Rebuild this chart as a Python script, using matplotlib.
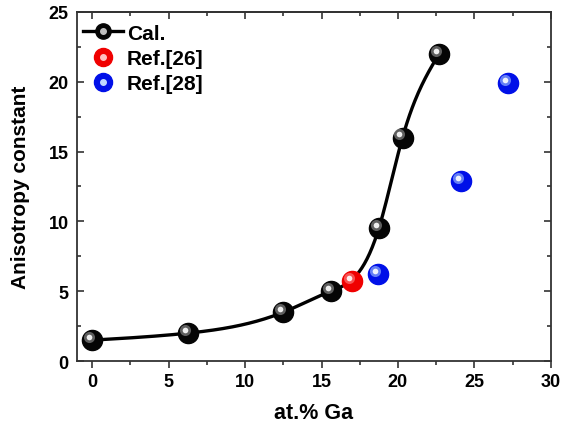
import numpy as np
import matplotlib
matplotlib.use('Agg')
import matplotlib.pyplot as plt
import matplotlib.transforms as mtransforms
from matplotlib.lines import Line2D

# data
cal_x = [0, 6.25, 12.5, 15.6, 18.75, 20.3, 22.7]
cal_y = [1.5, 2.0, 3.5, 5.0, 9.5, 16.0, 22.0]
ref26_x = [17.0]
ref26_y = [5.7]
ref28_x = [18.7, 24.1, 27.2]
ref28_y = [6.2, 12.9, 19.9]

plt.rcParams['font.family'] = ['Liberation Sans', 'DejaVu Sans']
plt.rcParams['font.weight'] = 'bold'


def natural_spline(x, y, n=400):
    # natural cubic spline through the points, drawn as y(x)
    x = np.asarray(x, float)
    y = np.asarray(y, float)
    k = len(x)
    h = np.diff(x)
    A = np.zeros((k, k))
    b = np.zeros(k)
    A[0, 0] = A[-1, -1] = 1
    for i in range(1, k - 1):
        A[i, i - 1] = h[i - 1]
        A[i, i] = 2 * (h[i - 1] + h[i])
        A[i, i + 1] = h[i]
        b[i] = 3 * ((y[i + 1] - y[i]) / h[i] - (y[i] - y[i - 1]) / h[i - 1])
    c = np.linalg.solve(A, b)
    xs = np.linspace(x[0], x[-1], n)
    idx = np.clip(np.searchsorted(x, xs) - 1, 0, k - 2)
    d = xs - x[idx]
    bb = (y[idx + 1] - y[idx]) / h[idx] - h[idx] * (c[idx + 1] + 2 * c[idx]) / 3
    dd = (c[idx + 1] - c[idx]) / (3 * h[idx])
    ys = y[idx] + bb * d + c[idx] * d ** 2 + dd * d ** 3
    return xs, ys


def sphere(ax, x, y, base, light, size=14.5, z=5):
    # fake a shaded ball: dark body plus an offset highlight
    ax.plot(x, y, 'o', ms=size, color=base, mec=base, zorder=z, clip_on=False)
    off = mtransforms.ScaledTranslation(-2.2 / 72, 2.2 / 72, ax.figure.dpi_scale_trans)
    ax.plot(x, y, 'o', ms=size * 0.55, color=light, mec='none', alpha=0.6,
            transform=ax.transData + off, zorder=z + 1, clip_on=False)
    ax.plot(x, y, 'o', ms=size * 0.28, color='white', mec='none', alpha=0.9,
            transform=ax.transData + off, zorder=z + 2, clip_on=False)


fig = plt.figure(figsize=(5.62, 4.27), dpi=100)
ax = fig.add_axes([0.137, 0.152, 0.843, 0.818])

sx, sy = natural_spline(cal_x, cal_y)
ax.plot(sx, sy, '-', color='black', lw=2.4, zorder=3)

sphere(ax, cal_x, cal_y, '#050505', '#9a9a9a')
sphere(ax, ref26_x, ref26_y, '#f00000', '#ff8a8a')
sphere(ax, ref28_x, ref28_y, '#0010e8', '#a8c8ff')

ax.set_xlim(-1, 30)
ax.set_ylim(0, 25)
ax.set_xticks([0, 5, 10, 15, 20, 25, 30])
ax.set_yticks([0, 5, 10, 15, 20, 25])
ax.set_xticks(np.arange(2.5, 30, 5), minor=True)
ax.set_yticks(np.arange(2.5, 25, 5), minor=True)
ax.tick_params(which='both', labelsize=13, width=1.2, color='#333333')
ax.tick_params(axis='x', which='both', direction='out', top=False)
ax.tick_params(axis='y', which='both', direction='in', right=True, labelright=False, pad=6)
ax.tick_params(which='major', length=5)
ax.tick_params(which='minor', length=3)

# top axis ticks point inward
top = ax.secondary_xaxis('top')
top.set_xticks([0, 5, 10, 15, 20, 25, 30])
top.set_xticks(np.arange(2.5, 30, 5), minor=True)
top.tick_params(which='both', direction='in', labeltop=False, width=1.2, color='#333333')
top.tick_params(which='major', length=5)
top.tick_params(which='minor', length=3)
top.spines['top'].set_linewidth(1.3)
top.spines['top'].set_color('#333333')

for s in ax.spines.values():
    s.set_linewidth(1.3)
    s.set_color('#333333')

ax.set_xlabel('at.% Ga', fontsize=15.5, fontweight='bold', labelpad=9)
ax.set_ylabel('Anisotropy constant', fontsize=15, fontweight='bold', labelpad=13)

# legend handles (ball with highlight)
h_cal = (Line2D([], [], color='black', lw=2.4),
         Line2D([], [], marker='o', ls='none', ms=11, color='#050505'),
         Line2D([], [], marker='o', ls='none', ms=4, color='#c0c0c0'))
h26 = (Line2D([], [], marker='o', ls='none', ms=13, color='#f00000'),
       Line2D([], [], marker='o', ls='none', ms=4, color='#ffc0c0'))
h28 = (Line2D([], [], marker='o', ls='none', ms=13, color='#0010e8'),
       Line2D([], [], marker='o', ls='none', ms=4, color='#c0d8ff'))
ax.legend([h_cal, h26, h28], ['Cal.', 'Ref.[26]', 'Ref.[28]'],
          loc='upper left', bbox_to_anchor=(-0.005, 0.99), frameon=False,
          fontsize=15, handlelength=1.9, handletextpad=0.2, borderaxespad=0.1,
          borderpad=0.3, labelspacing=0.3)

fig.savefig('out.png', dpi=100)
